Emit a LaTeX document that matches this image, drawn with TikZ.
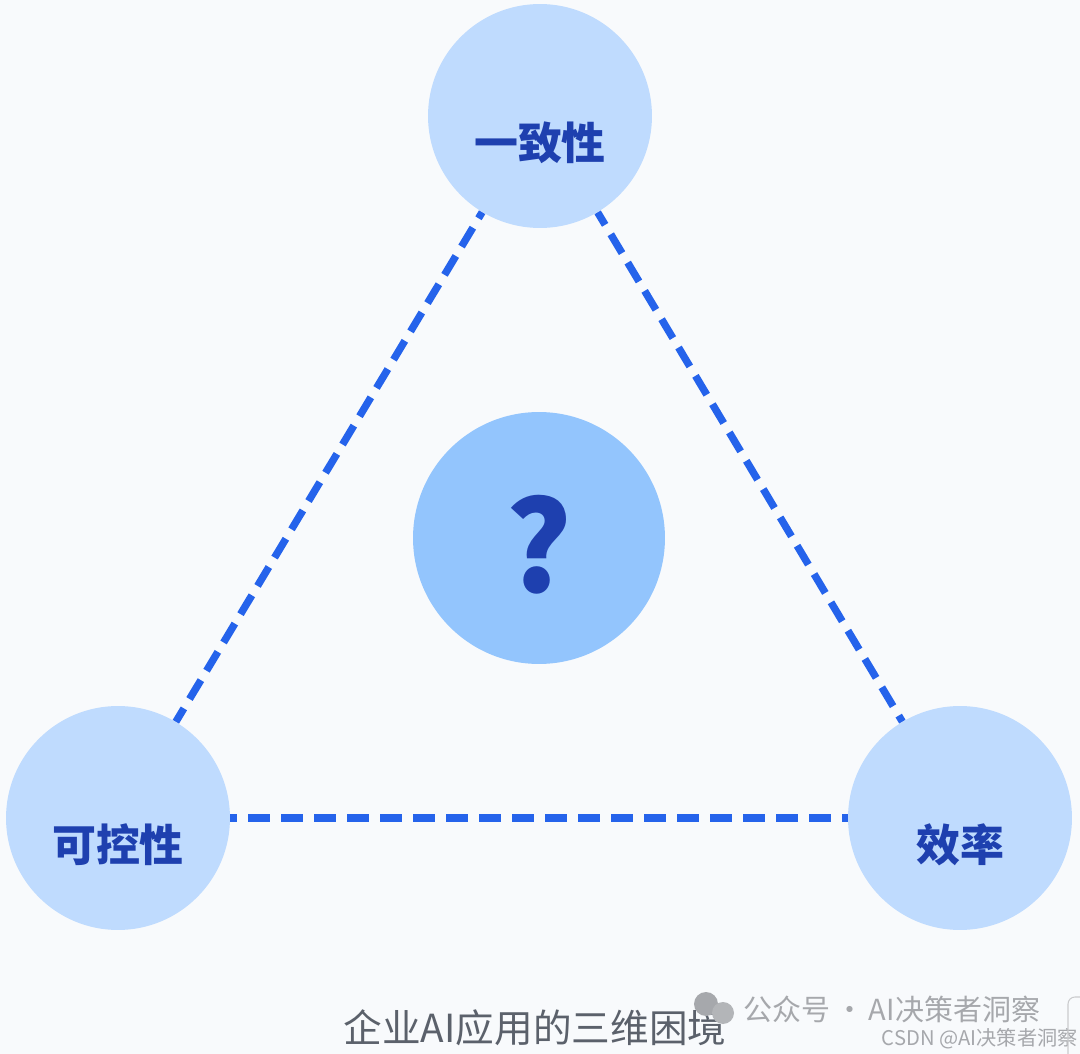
\documentclass[tikz,border=0pt]{standalone}
\usepackage{fontspec}
\setmainfont{Noto Sans CJK SC}
\newfontfamily\cjk{Noto Sans CJK SC}

\definecolor{pagebg}{HTML}{F8FAFC}
\definecolor{ringfill}{HTML}{BFDBFE}
\definecolor{hubfill}{HTML}{93C5FD}
\definecolor{dashblue}{HTML}{2563EB}
\definecolor{wordblue}{HTML}{1E40AF}
\definecolor{captiongray}{HTML}{5B616B}
\definecolor{wmgray}{HTML}{A6A8AC}

\begin{document}
\begin{tikzpicture}[
  x=0.02cm, y=-0.02cm,
  corner/.style={circle, fill=ringfill, minimum size=4.48cm, inner sep=0pt},
  tag/.style={yshift=-0.54cm, text=wordblue, font=\cjk\bfseries\fontsize{25}{30}\selectfont},
  hub/.style={circle, fill=hubfill, minimum size=5.04cm, inner sep=0pt},
  qmark/.style={yshift=-0.14cm, text=wordblue, font=\cjk\bfseries\fontsize{71}{80}\selectfont},
  link/.style={draw=dashblue, line width=4.2pt, dash pattern=on 0.44cm off 0.22cm, dash phase=0.3cm},
  caption/.style={text=captiongray, font=\cjk\fontsize{22}{26}\selectfont},
  wmtext/.style={text=wmgray, inner sep=0pt}
]
  % page
  \fill[pagebg] (0,0) rectangle (1080,1054);
  \useasboundingbox (0,0) rectangle (1080,1054);

  % three corners and the centre
  \node[corner, label={[tag]center:一致性}] (consistency) at (540,116) {};
  \node[corner, label={[tag]center:可控性}] (control) at (118,818) {};
  \node[corner, label={[tag]center:效率}] (efficiency) at (960,818) {};
  \node[hub, label={[qmark]center:?}] (dilemma) at (539,538) {};

  \draw [link] (consistency) -- (control);
  \draw [link] (control) -- (efficiency);
  \draw [link] (efficiency) -- (consistency);

  % caption
  \node[caption] (title) at (535,1028) {企业AI应用的三维困境};

  % watermark
  \fill[wmgray] (706,1004) circle (12);
  \fill[wmgray!85] (723,1013) circle (11);
  \node[wmtext, font=\cjk\fontsize{16.5}{20}\selectfont, anchor=west] (wechat) at (743,1009) {公众号\,·\,AI决策者洞察};
  \node[wmtext, font=\cjk\fontsize{11.5}{14}\selectfont, anchor=east] (csdn) at (1078,1039) {CSDN @AI决策者洞察};
  \draw[wmgray!60, line width=0.6pt, rounded corners=4pt] (1085,997) -- (1068,997) -- (1068,1054);
\end{tikzpicture}
\end{document}
